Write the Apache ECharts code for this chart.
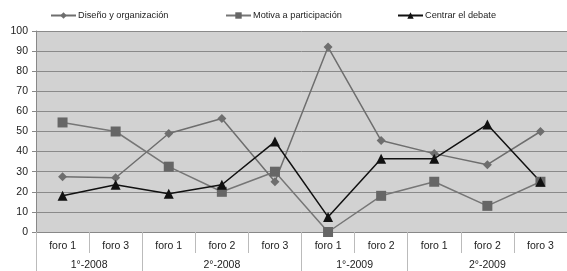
<!DOCTYPE html>
<html>
<head>
<meta charset="utf-8">
<script src="https://cdn.jsdelivr.net/npm/echarts@6/dist/echarts.min.js"></script>
<style>
  html, body { margin: 0; padding: 0; background: #fff; }
  #chart { width: 567px; height: 271px; }
</style>
</head>
<body>
<div id="chart"></div>
<script>
// categorias (foros) y grupos (semestres)
const foros = ['foro 1', 'foro 3', 'foro 1', 'foro 2', 'foro 3', 'foro 1', 'foro 2', 'foro 1', 'foro 2', 'foro 3'];
const grupos = ['1°-2008', '2°-2008', '1°-2009', '2°-2009'];
const grupoSize = [2, 3, 2, 3];
const seriesNames = ['Diseño y organización', 'Motiva a participación', 'Centrar el debate'];

const diseno = [27.5, 27, 49, 56.5, 25, 92, 45.5, 39, 33.5, 50];
const motiva = [54.5, 50, 32.5, 20, 30, 0, 18, 25, 13, 25];
const centrar = [18, 23.5, 19, 23.5, 45, 7.5, 36.5, 36.5, 53.5, 25];

// eje de grupos: 21 puntos (medias bandas)
const grupoData = [];
const grupoLabelIdx = [];
const grupoTickIdx = [0];
let pos = 0;
for (let i = 0; i <= foros.length * 2; i++) grupoData.push('');
grupoSize.forEach((n, i) => {
  const mid = pos * 2 + n; // centro en medias bandas
  grupoData[mid] = grupos[i];
  grupoLabelIdx.push(mid);
  pos += n;
  grupoTickIdx.push(pos * 2);
});

const font = 'Liberation Sans, Arial, sans-serif';
const chart = echarts.init(document.getElementById('chart'));

// una leyenda por serie para colocarlas como en el original
const legendLeft = [50, 225, 397];
const legends = seriesNames.map((name, i) => ({
  top: 11,
  left: legendLeft[i],
  padding: 0,
  itemWidth: 25,
  itemHeight: 8,
  itemGap: 0,
  textStyle: { fontFamily: font, fontSize: 9.2, color: '#222', padding: [0, 0, 0, -3] },
  data: [name]
}));

const option = {
  animation: false,
  textStyle: { fontFamily: font },
  legend: legends,
  grid: {
    left: 36,
    right: 0,
    top: 31,
    bottom: 38,
    show: true,
    backgroundColor: '#d2d2d2',
    borderWidth: 0
  },
  xAxis: [
    {
      type: 'category',
      data: foros,
      boundaryGap: true,
      axisLine: { show: true, lineStyle: { color: '#888', width: 1 } },
      axisTick: { show: true, interval: 0, length: 21, lineStyle: { color: '#bbb' } },
      axisLabel: { interval: 0, fontSize: 10.5, color: '#222', margin: 9, fontFamily: font }
    },
    {
      type: 'category',
      position: 'bottom',
      data: grupoData,
      boundaryGap: false,
      axisLine: { show: false },
      axisTick: {
        show: true,
        length: 40,
        interval: (i) => grupoTickIdx.indexOf(i) >= 0,
        lineStyle: { color: '#bbb' }
      },
      axisLabel: {
        interval: (i) => grupoLabelIdx.indexOf(i) >= 0,
        fontSize: 10.5, color: '#222', margin: 28, fontFamily: font
      },
      splitLine: { show: false }
    }
  ],
  yAxis: {
    type: 'value',
    min: 0,
    max: 100,
    interval: 10,
    axisLine: { show: true, lineStyle: { color: '#888' } },
    axisTick: { show: true, length: 4, lineStyle: { color: '#888' } },
    axisLabel: { fontSize: 10.5, color: '#222', margin: 8, fontFamily: font },
    splitLine: { show: true, lineStyle: { color: '#8a8a8a', width: 1 } }
  },
  series: [
    {
      name: seriesNames[0],
      type: 'line',
      data: diseno,
      symbol: 'diamond',
      symbolSize: 9,
      color: '#6e6e6e',
      lineStyle: { width: 1.5, color: '#6e6e6e' },
      itemStyle: { color: '#6e6e6e' }
    },
    {
      name: seriesNames[1],
      type: 'line',
      data: motiva,
      symbol: 'rect',
      symbolSize: 10,
      color: '#6a6a6a',
      lineStyle: { width: 1.5, color: '#767676' },
      itemStyle: { color: '#666' }
    },
    {
      name: seriesNames[2],
      type: 'line',
      data: centrar,
      symbol: 'triangle',
      symbolSize: 10,
      color: '#111',
      lineStyle: { width: 1.5, color: '#111' },
      itemStyle: { color: '#111' }
    }
  ]
};

chart.setOption(option);
</script>
</body>
</html>
